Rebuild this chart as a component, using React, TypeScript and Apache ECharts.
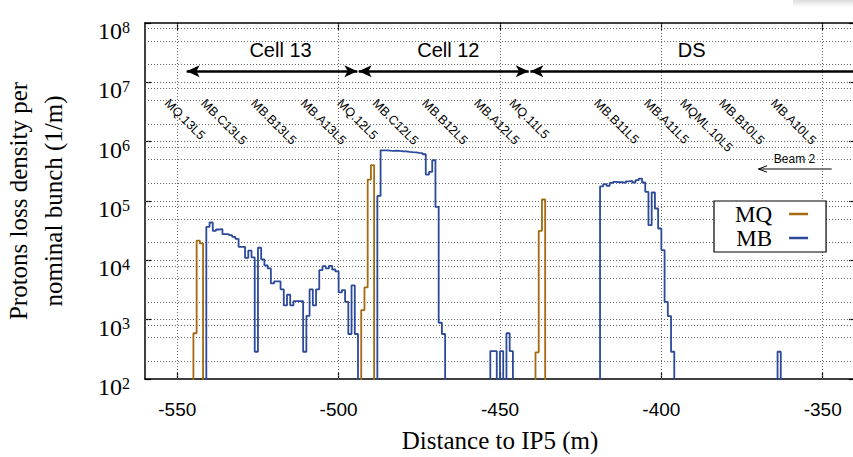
import React, { useEffect, useRef } from "react";
import * as echarts from "echarts";

// ---------- axis ranges & ticks ----------
const X_MIN = -560;
const X_MAX = -340;
const Y_MIN = 1e2;
const Y_MAX = 1e8;
const xTicks = [-550, -500, -450, -400, -350];
const gridMultipliers = [1, 2, 5, 8];
const FLOOR = 1; // "no loss" level, below the axis minimum

// ---------- MQ (quadrupole) loss density, 1 m bins ----------
const mq13Start = -545;
const mq13 = [590, 21500, 19300];
const mq12Start = -493;
const mq12 = [1450, 3500, 230000, 401000];
const mq11Start = -439;
const mq11 = [282, 31400, 106000];

// ---------- MB (dipole) loss density, 1 m bins ----------
const mbCell13Start = -541;
const mbCell13 = [
  36700, 43400, 31400, 33100, 33500, 27600, 27600, 26500, 24900, 23000,
  16900, 16900, 11000, 14600, 11200, 288, 16300, 10400, 8200, 7300,
  4080, 4410, 4410, 3240, 1740, 2630, 1740, 2050, 2050, 2050,
  288, 1160, 3240, 1740, 3240, 6840, 7980, 7300, 8090, 7010,
  6500, 2880, 3150, 2000, 573, 3780, 573,
];
const mbCell12Start = -488;
const mbCell12 = [
  122000, 716000, 716000, 705000, 700000, 705000, 697000, 690000, 685000, 671000,
  665000, 660000, 646000, 640000, 614000, 279000, 309000, 486000, 79600, 887, 573,
];
const mbMidStart = -453;
const mbMid = [296, 296, 0, 296, 0, 590, 296];
const mbDSStart = -419;
const mbDS = [
  177000, 192000, 180000, 202000, 210000, 207000, 207000, 202000, 215000, 218000,
  205000, 224000, 239000, 205000, 143000, 39200, 139000, 74700, 34400, 14900,
  2000, 1150, 288,
];
const mbLoneStart = -364;
const mbLone = [288];

// ---------- annotations ----------
const magnetNames = [
  "MQ.13L5", "MB.C13L5", "MB.B13L5", "MB.A13L5", "MQ.12L5", "MB.C12L5", "MB.B12L5",
  "MB.A12L5", "MQ.11L5", "MB.B11L5", "MB.A11L5", "MQML.10L5", "MB.B10L5", "MB.A10L5",
];
const magnetLabelX = [
  -553.3, -542.0, -526.5, -511.1, -499.8, -488.9, -473.5,
  -457.4, -446.5, -420.2, -404.7, -393.6, -381.5, -365.5,
];
const MAGNET_LABEL_Y = 4.8e6;
const cellNames = ["Cell 13", "Cell 12", "DS"];
const cellCenters = [-518.0, -466.0, -390.6];
const cellStarts = [-547.1, -493.8, -440.6];
const cellEnds = [-494.2, -441.1, X_MAX];
const CELL_TEXT_Y = 3.47e7;
const CELL_ARROW_Y = 1.54e7;

const MQ_COLOR = "#a5690f";
const MB_COLOR = "#2c4a9a";
const SERIF = "Liberation Serif";
const SANS = "Liberation Sans";

function toSteps(blocks: [number, number[]][]): [number, number][] {
  const pts: [number, number][] = [[X_MIN, FLOOR]];
  for (const [start, vals] of blocks) {
    vals.forEach((v, i) => pts.push([start + i, v > 0 ? v : FLOOR]));
    pts.push([start + vals.length, FLOOR]);
  }
  pts.push([X_MAX, FLOOR]);
  return pts;
}

function buildOption(): any {
  const mqData = toSteps([
    [mq13Start, mq13],
    [mq12Start, mq12],
    [mq11Start, mq11],
  ]);
  const mbData = toSteps([
    [mbCell13Start, mbCell13],
    [mbCell12Start, mbCell12],
    [mbMidStart, mbMid],
    [mbDSStart, mbDS],
    [mbLoneStart, mbLone],
  ]);

  const gridY: number[] = [];
  for (let e = 2; e <= 7; e++) {
    for (const m of gridMultipliers) {
      const v = m * Math.pow(10, e);
      if (v > Y_MIN && v < Y_MAX) gridY.push(v);
    }
  }

  const frameLine = { show: true, onZero: false, lineStyle: { color: "#000", width: 1.5 } };
  const tickStyle = { color: "#000", width: 1.2 };

  return {
    animation: false,
    backgroundColor: "#fff",
    grid: { left: 145, top: 23, width: 710, height: 356, outerBoundsMode: "none", containLabel: false },
    xAxis: [
      {
        type: "value",
        min: X_MIN,
        max: X_MAX,
        position: "bottom",
        name: "Distance to IP5 (m)",
        nameLocation: "middle",
        nameGap: 49,
        nameTextStyle: { fontFamily: SERIF, fontSize: 25, color: "#000" },
        axisLine: frameLine,
        axisTick: { show: true, inside: true, length: 7, customValues: xTicks, lineStyle: tickStyle },
        axisLabel: { customValues: xTicks, margin: 21, fontFamily: SANS, fontSize: 19, color: "#000" },
        splitLine: { show: false },
      },
      {
        type: "value",
        min: X_MIN,
        max: X_MAX,
        position: "top",
        axisLine: frameLine,
        axisTick: { show: true, inside: true, length: 7, customValues: xTicks, lineStyle: tickStyle },
        axisLabel: { show: false },
        splitLine: { show: false },
      },
    ],
    yAxis: [
      {
        type: "log",
        logBase: 10,
        min: Y_MIN,
        max: Y_MAX,
        position: "left",
        name: "Protons loss density per\nnominal bunch (1/m)",
        nameLocation: "middle",
        nameRotate: 90,
        nameGap: 74,
        nameTextStyle: { fontFamily: SERIF, fontSize: 25, lineHeight: 35, color: "#000" },
        axisLine: frameLine,
        axisTick: { show: true, inside: true, length: 6, lineStyle: tickStyle },
        axisLabel: {
          margin: 15,
          padding: [22, 0, 0, 0],
          formatter: (v: number) => `{a|10}{b|${Math.round(Math.log10(v))}}`,
          rich: {
            a: { fontFamily: SERIF, fontSize: 24, lineHeight: 30, verticalAlign: "top", color: "#000" },
            b: { fontFamily: SERIF, fontSize: 16, lineHeight: 16, verticalAlign: "top", color: "#000" },
          },
        },
        splitLine: { show: false },
      },
      {
        type: "log",
        logBase: 10,
        min: Y_MIN,
        max: Y_MAX,
        position: "right",
        axisLine: frameLine,
        axisTick: { show: true, inside: true, length: 6, lineStyle: tickStyle },
        axisLabel: { show: false },
        splitLine: { show: false },
      },
    ],
    legend: {
      data: ["MQ", "MB"],
      orient: "vertical",
      left: 714,
      top: 201,
      align: "right",
      icon: "rect",
      itemWidth: 19,
      itemHeight: 2.5,
      itemGap: 0,
      padding: [1, 18, 2, 21],
      borderColor: "#000",
      borderWidth: 1.2,
      backgroundColor: "#fff",
      selectedMode: false,
      textStyle: { fontFamily: SERIF, fontSize: 23, lineHeight: 24, color: "#000", padding: [0, 12, 0, 0] },
    },
    series: [
      {
        name: "grid",
        type: "line",
        data: [],
        silent: true,
        z: 1,
        markLine: {
          silent: true,
          z: 1,
          symbol: "none",
          label: { show: false },
          lineStyle: { color: "#666", width: 1, type: [1, 2] },
          data: [
            ...gridY.map((v) => ({ yAxis: v })),
            ...xTicks.map((x) => ({ xAxis: x })),
          ],
        },
      },
      {
        name: "MQ",
        type: "line",
        step: "end",
        data: mqData,
        showSymbol: false,
        symbol: "none",
        clip: true,
        z: 3,
        lineStyle: { color: MQ_COLOR, width: 1.8 },
        itemStyle: { color: MQ_COLOR },
      },
      {
        name: "MB",
        type: "line",
        step: "end",
        data: mbData,
        showSymbol: false,
        symbol: "none",
        clip: true,
        z: 3,
        lineStyle: { color: MB_COLOR, width: 1.8 },
        itemStyle: { color: MB_COLOR },
      },
      {
        name: "cells",
        type: "line",
        data: [],
        silent: true,
        z: 4,
        markLine: {
          silent: true,
          z: 4,
          symbol: ["arrow", "arrow"],
          symbolSize: [9, 13],
          label: { show: false },
          lineStyle: { color: "#000", width: 2.5, type: "solid" },
          itemStyle: { color: "#000" },
          data: cellStarts.map((s, i) => [
            { coord: [s, CELL_ARROW_Y], symbol: "arrow" },
            { coord: [cellEnds[i], CELL_ARROW_Y], symbol: i === 2 ? "none" : "arrow" },
          ]),
        },
      },
    ],
  };
}

export default function App() {
  const ref = useRef<HTMLDivElement>(null);
  useEffect(() => {
    const chart = echarts.init(ref.current!, null, { renderer: "svg" });
    chart.setOption(buildOption());
    const toPx = (x: number, y: number) =>
      chart.convertToPixel({ xAxisIndex: 0, yAxisIndex: 0 }, [x, y]) as number[];
    const graphics: any[] = [];
    magnetNames.forEach((name, i) => {
      const [gx, gy] = toPx(magnetLabelX[i], MAGNET_LABEL_Y);
      graphics.push({
        type: "text",
        x: gx,
        y: gy,
        rotation: -Math.PI / 4,
        silent: true,
        style: { text: name, fill: "#000", fontFamily: SANS, fontSize: 12.5, align: "left", verticalAlign: "middle" },
      });
    });
    cellNames.forEach((name, i) => {
      const [gx, gy] = toPx(cellCenters[i], CELL_TEXT_Y);
      graphics.push({
        type: "text",
        x: gx,
        y: gy,
        silent: true,
        style: { text: name, fill: "#000", fontFamily: SANS, fontSize: 20, align: "center", verticalAlign: "middle" },
      });
    });
    // Beam 2 annotation
    graphics.push(
      {
        type: "text",
        x: 794.5,
        y: 158.5,
        silent: true,
        style: { text: "Beam 2", fill: "#000", fontFamily: SANS, fontSize: 12, align: "center", verticalAlign: "middle" },
      },
      { type: "line", silent: true, shape: { x1: 831.7, y1: 169, x2: 758.5, y2: 169 }, style: { stroke: "#000", lineWidth: 1 } },
      {
        type: "polyline",
        silent: true,
        shape: { points: [[767, 165.8], [758.5, 169], [767, 172.2]] },
        style: { stroke: "#000", lineWidth: 1, fill: null },
      },
      {
        type: "rect",
        silent: true,
        z: -1,
        shape: { x: 793, y: 0, width: 60, height: 7 },
        style: {
          fill: new echarts.graphic.LinearGradient(0, 0, 0, 1, [
            { offset: 0, color: "#dcdcdc" },
            { offset: 1, color: "#ffffff" },
          ]),
        },
      }
    );
    chart.setOption({ graphic: graphics });
    return () => chart.dispose();
  }, []);
  return (
    <div
      ref={ref}
      style={{ position: "fixed", left: 0, top: 0, width: 853, height: 457, background: "#fff" }}
    />
  );
}
